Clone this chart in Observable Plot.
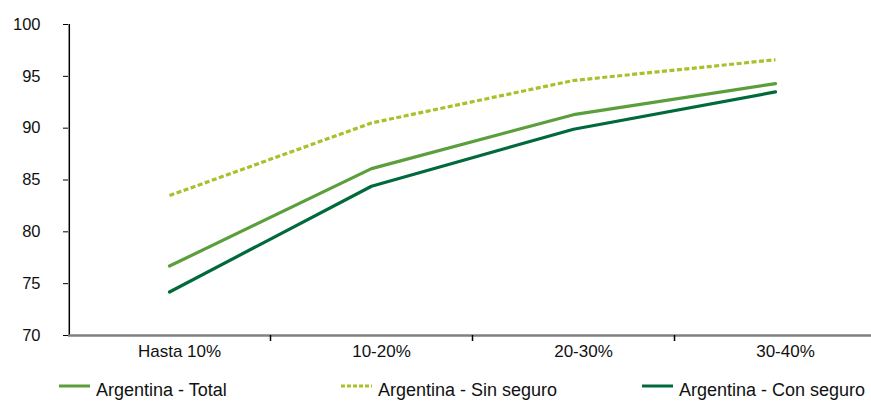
<!DOCTYPE html>
<html><head><meta charset="utf-8">
<script src="https://cdn.jsdelivr.net/npm/d3@7"></script>
<script src="https://cdn.jsdelivr.net/npm/@observablehq/plot@0.6"></script>
<style>
body{margin:0;background:#fff;font-family:"Liberation Sans",Arial,sans-serif;}
#legend{position:relative;height:31px;width:871px;overflow:hidden;}
.item{position:absolute;top:4px;font-size:18px;line-height:22px;color:#111;white-space:nowrap;}
.sw{position:absolute;top:9px;}
</style></head>
<body>
<div id="chart"></div>
<div id="legend"></div>
<script>
const categories = ["Hasta 10%", "10-20%", "20-30%", "30-40%"];
const seriesNames = ["Argentina - Total", "Argentina - Sin seguro", "Argentina - Con seguro"];
const total = [76.7, 86.1, 91.3, 94.3];
const sinSeguro = [83.5, 90.5, 94.6, 96.6];
const conSeguro = [74.2, 84.4, 89.9, 93.5];
const yTicks = [70, 75, 80, 85, 90, 95, 100];
const colors = ["#5b9e3c", "#a9c02a", "#006a3c"];

const toRows = vals => vals.map((v, i) => ({pos: i + 0.5, value: v}));

const plot = Plot.plot({
  width: 871,
  height: 375,
  marginLeft: 68,
  marginRight: 0,
  marginTop: 24,
  marginBottom: 40,
  style: {fontFamily: '"Liberation Sans", Arial, sans-serif', fontSize: "16px", color: "#111"},
  x: {domain: [0, 4], range: [68, 876], label: null},
  y: {domain: [70, 100], range: [335, 24], label: null},
  marks: [
    Plot.axisY({ticks: yTicks, tickSize: 5, tickPadding: 23, tickFormat: d => String(d), fontSize: 16.5, stroke: "#000", label: null}),
    Plot.ruleX([0.004], {stroke: "#000", strokeWidth: 1.5}),
    Plot.ruleY([70], {stroke: "#808080", strokeWidth: 2.5}),
    Plot.axisX({ticks: [1, 2, 3], tickSize: 6, tickFormat: () => "", stroke: "#000", strokeWidth: 1.5, label: null}),
    Plot.axisX({ticks: categories.map((c, i) => i + 0.5), tickSize: 0, tickPadding: 9, dx: 10, fontSize: 17, label: null,
      tickFormat: d => categories[Math.round(d - 0.5)]}),
    Plot.line(toRows(total), {x: "pos", y: "value", stroke: colors[0], strokeWidth: 3.2}),
    Plot.line(toRows(conSeguro), {x: "pos", y: "value", stroke: colors[2], strokeWidth: 3.2}),
    Plot.line(toRows(sinSeguro), {x: "pos", y: "value", stroke: colors[1], strokeWidth: 3.2, strokeDasharray: "5 2.5", strokeLinecap: "butt"})
  ]
});
document.getElementById("chart").appendChild(plot);

const legend = document.getElementById("legend");
const swX = [59, 341, 642];
const ns = "http://www.w3.org/2000/svg";
seriesNames.forEach((name, i) => {
  const sw = document.createElementNS(ns, "svg");
  sw.setAttribute("class", "sw");
  sw.setAttribute("width", "31");
  sw.setAttribute("height", "4");
  sw.style.left = swX[i] + "px";
  const ln = document.createElementNS(ns, "line");
  ln.setAttribute("x1", "0"); ln.setAttribute("x2", "31");
  ln.setAttribute("y1", "2"); ln.setAttribute("y2", "2");
  ln.setAttribute("stroke", colors[i]);
  ln.setAttribute("stroke-width", "3");
  if (i === 1) ln.setAttribute("stroke-dasharray", "4 2");
  sw.appendChild(ln);
  legend.appendChild(sw);
  const t = document.createElement("div");
  t.className = "item";
  t.style.left = (swX[i] + 37) + "px";
  t.textContent = name;
  legend.appendChild(t);
});
</script>
</body></html>
